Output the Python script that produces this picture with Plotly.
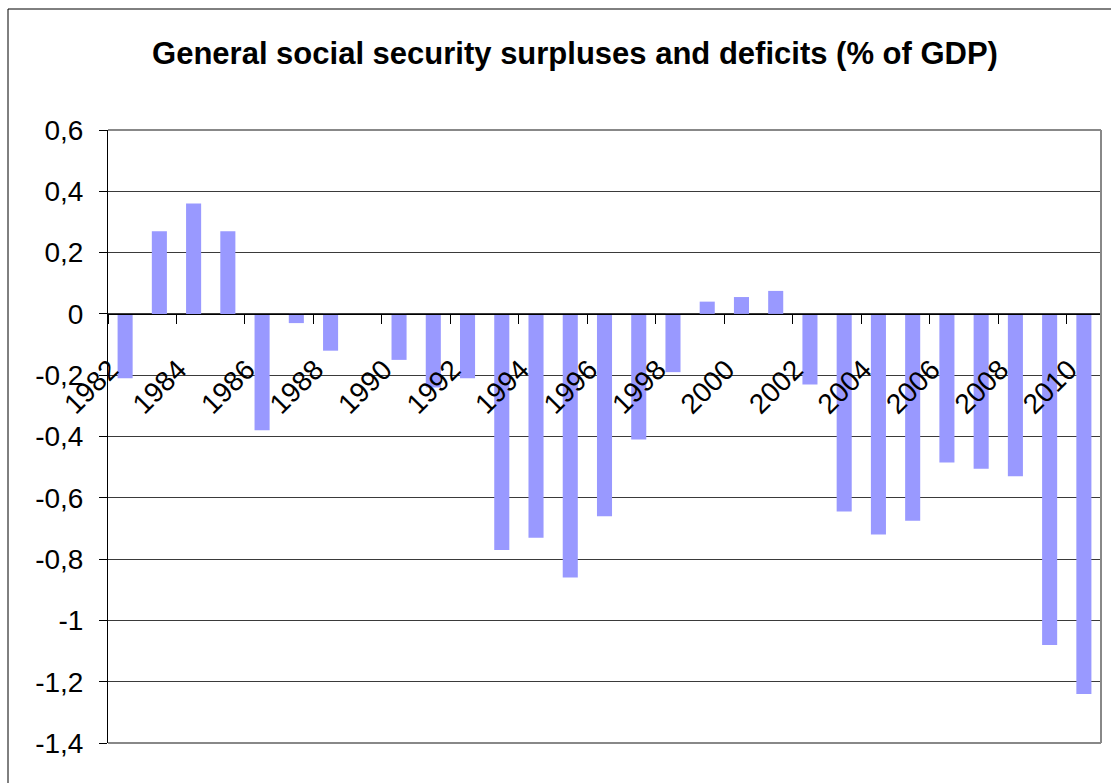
import plotly.graph_objects as go

years = list(range(1982, 2011))
values = [-0.21, 0.27, 0.36, 0.27, -0.38, -0.03, -0.12, 0.0, -0.15, -0.24,
          -0.21, -0.77, -0.73, -0.86, -0.66, -0.41, -0.19, 0.04, 0.055, 0.075,
          -0.23, -0.645, -0.72, -0.675, -0.485, -0.505, -0.53, -1.08, -1.24]

x_tick_labels = [str(y) for y in range(1982, 2011, 2)]
x_tick_pos = [y - 0.5 for y in range(1982, 2011, 2)]

y_tick_vals = [0.6, 0.4, 0.2, 0, -0.2, -0.4, -0.6, -0.8, -1.0, -1.2, -1.4]
y_tick_text = ["0,6", "0,4", "0,2", "0", "-0,2", "-0,4", "-0,6", "-0,8", "-1", "-1,2", "-1,4"]

title_text = "General social security surpluses and deficits (% of GDP)"

W, H = 1111, 783
ML, MR, MT, MB = 108, 10, 130, 40
PW = W - ML - MR
PH = H - MT - MB

fig = go.Figure()
fig.add_trace(go.Bar(x=years, y=values, width=0.44,
                     marker=dict(color="#9999FF", line=dict(width=0)),
                     showlegend=False))

FONT = "Liberation Sans, Arial, sans-serif"

fig.update_layout(
    width=W, height=H,
    margin=dict(l=ML, r=MR, t=MT, b=MB),
    paper_bgcolor="white", plot_bgcolor="white",
    font=dict(family=FONT, color="black", size=27),
    title=dict(text="<b>" + title_text + "</b>", x=575 / W, xref="container", xanchor="center",
               y=1 - 53 / H, yref="container", yanchor="middle",
               font=dict(family=FONT, size=31, color="black")),
    xaxis=dict(range=[1981.5, 2010.5], tickmode="array", tickvals=x_tick_pos, ticktext=x_tick_labels,
               tickangle=-45, anchor="free", position=0.7, showline=True, linecolor="black", linewidth=1,
               ticks="outside", ticklen=9, tickcolor="black", tickwidth=1, showgrid=False, zeroline=False,
               tickfont=dict(size=28), ticklabelstandoff=18, ticklabelshift=2),
    yaxis=dict(range=[-1.4, 0.6], tickmode="array", tickvals=y_tick_vals, ticktext=y_tick_text,
               showline=True, linecolor="black", linewidth=1, ticks="outside", ticklen=8,
               tickcolor="black", showgrid=True, gridcolor="#3a3a3a", gridwidth=1, zeroline=False,
               tickfont=dict(size=28), ticklabelstandoff=10),
)

# plot area frame (top, right, bottom) in gray
for (x0, y0, x1, y1) in [(0, 1, 1, 1), (1, 0, 1, 1), (0, 0, 1, 0)]:
    fig.add_shape(type="line", xref="x domain", yref="y domain", x0=x0, y0=y0, x1=x1, y1=y1,
                  line=dict(color="#888888", width=2), layer="above")

# outer chart border
fig.add_shape(type="rect", xref="paper", yref="paper",
              x0=(8 - ML) / PW, x1=(1130 - ML) / PW,
              y0=(MT + PH - 800) / PH, y1=(MT + PH - 9) / PH,
              line=dict(color="black", width=1), fillcolor="rgba(0,0,0,0)", layer="below")

fig.write_html("out.html")
